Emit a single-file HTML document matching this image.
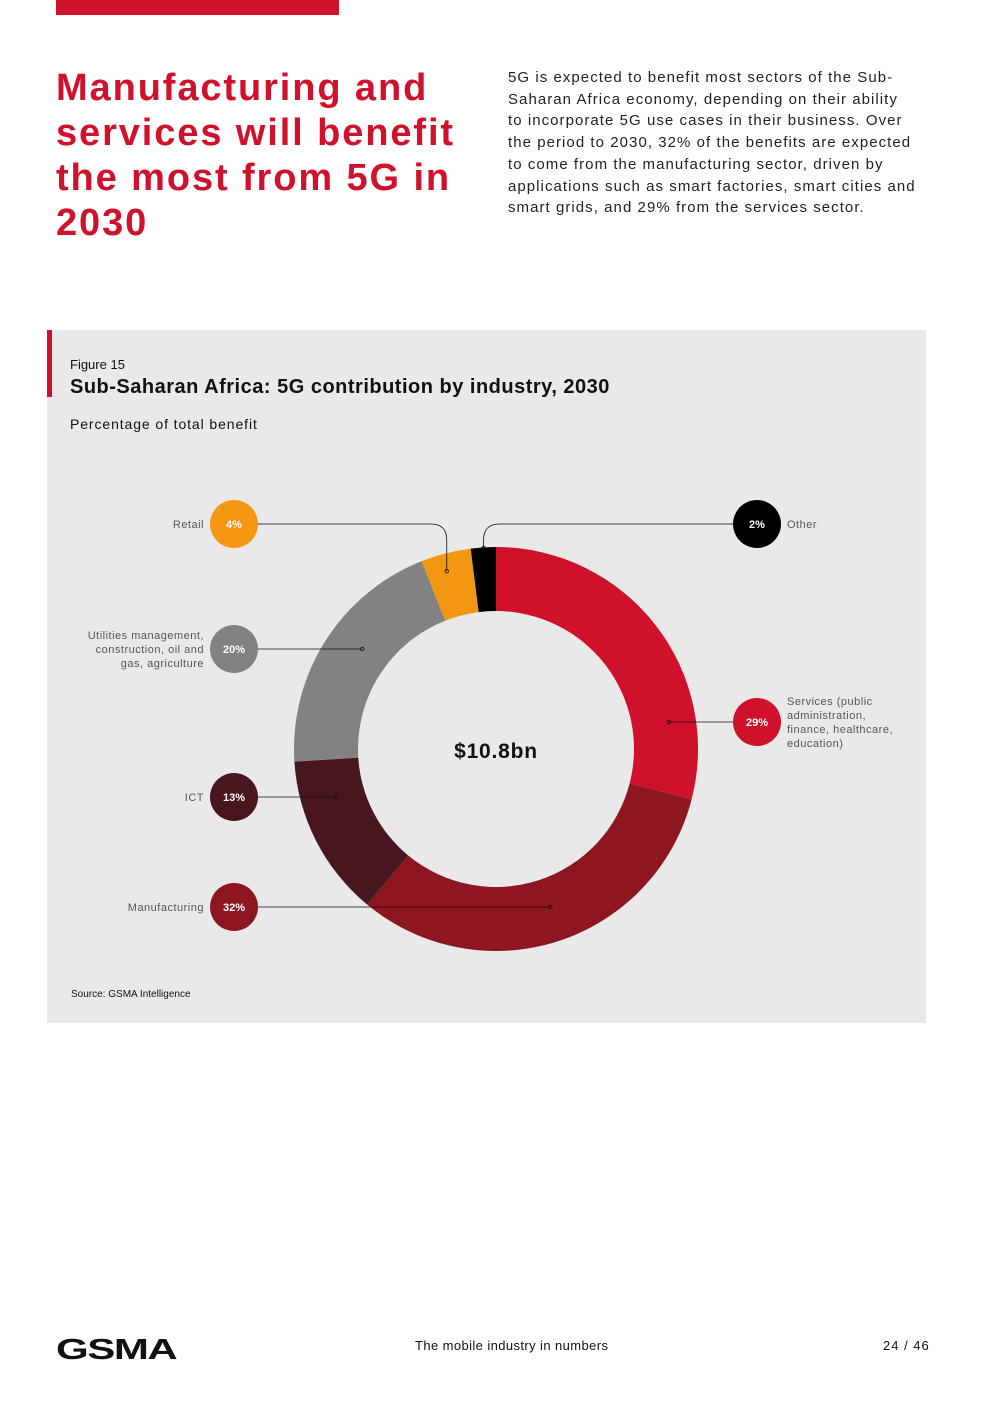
<!DOCTYPE html>
<html><head><meta charset="utf-8"><style>
body{margin:0;width:992px;height:1403px;background:#fff;font-family:"Liberation Sans",sans-serif;position:relative;overflow:hidden}
.a{position:absolute}
</style></head><body>
<div class="a" style="left:56px;top:0;width:283px;height:15px;background:#d0112b"></div>
<div class="a" style="left:56px;top:66px;width:460px;font-size:38px;line-height:45px;font-weight:bold;color:#d0112b;letter-spacing:1.9px;white-space:nowrap">Manufacturing and<br>services will benefit<br>the most from 5G in<br>2030</div>
<div class="a" style="left:508px;top:67px;width:440px;font-size:15px;line-height:21.7px;color:#222;letter-spacing:1.05px;white-space:nowrap">5G is expected to benefit most sectors of the Sub-<br>Saharan Africa economy, depending on their ability<br>to incorporate 5G use cases in their business. Over<br>the period to 2030, 32% of the benefits are expected<br>to come from the manufacturing sector, driven by<br>applications such as smart factories, smart cities and<br>smart grids, and 29% from the services sector.</div>

<div class="a" style="left:47px;top:330px;width:879px;height:693px;background:#e8e9e8"></div>
<div class="a" style="left:47px;top:330px;width:5px;height:67px;background:#d0112b"></div>
<div class="a" style="left:70px;top:357px;font-size:13px;color:#111">Figure 15</div>
<div class="a" style="left:70px;top:376px;font-size:20px;font-weight:bold;color:#111;letter-spacing:0.5px">Sub-Saharan Africa: 5G contribution by industry, 2030</div>
<div class="a" style="left:70px;top:416px;font-size:14px;color:#111;letter-spacing:0.9px">Percentage of total benefit</div>
<div class="a" style="left:71px;top:989px;font-size:10px;color:#111">Source: GSMA Intelligence</div>

<svg class="a" style="left:0;top:0" width="992" height="1403" id="chart"></svg>

<div class="a" style="left:56px;top:1334px;font-size:29px;font-weight:900;color:#111;letter-spacing:-1px;transform:scaleX(1.45);transform-origin:left">GSMA</div>
<div class="a" style="left:415px;top:1338px;font-size:13px;color:#111;letter-spacing:0.4px">The mobile industry in numbers</div>
<div class="a" style="left:883px;top:1338px;font-size:13px;color:#111;letter-spacing:1px">24 / 46</div>

<script>
const categories=["Services","Manufacturing","ICT","Utilities","Retail","Other"];
const values=[29,32,13,20,4,2];
const colors=["#d0112b","#8e1620","#47161f","#818281","#f39712","#000000"];
const labelTexts=[["Services (public","administration,","finance, healthcare,","education)"],["Manufacturing"],["ICT"],["Utilities management,","construction, oil and","gas, agriculture"],["Retail"],["Other"]];
const total="$10.8bn";
const svg=document.getElementById('chart');
const NS="http://www.w3.org/2000/svg";
const cx=496,cy=749,R=202,r=138;
function mk(t,a){const e=document.createElementNS(NS,t);for(const k in a)e.setAttribute(k,a[k]);svg.appendChild(e);return e;}
function pt(ang,rad){return [cx+rad*Math.sin(ang),cy-rad*Math.cos(ang)];}
const sum=values.reduce((a,b)=>a+b,0);
let acc=0;const mids=[];
values.forEach((v,i)=>{
 const a0=acc/sum*2*Math.PI,a1=(acc+v)/sum*2*Math.PI;acc+=v;mids.push((a0+a1)/2);
 const [x0,y0]=pt(a0,R),[x1,y1]=pt(a1,R),[x2,y2]=pt(a1,r),[x3,y3]=pt(a0,r);
 const lg=(a1-a0)>Math.PI?1:0;
 const p=mk('path',{d:`M${x0},${y0}A${R},${R} 0 ${lg} 1 ${x1},${y1}L${x2},${y2}A${r},${r} 0 ${lg} 0 ${x3},${y3}Z`,fill:colors[i]});
 
 
});
const c=mk('text',{x:cx,y:cy+9,'text-anchor':'middle','font-size':21,'font-weight':'bold',fill:'#111','letter-spacing':0.8});c.textContent=total;


const layout=[{side:'R',y:722},{side:'L',y:907},{side:'L',y:797},{side:'L',y:649},{side:'L',y:524,top:true},{side:'R',y:524,top:true}];
layout.forEach((L,i)=>{
 const ccx=L.side==='L'?234:757;
 const m=mids[i];
 const g=mk('g',{});
 
 
 let d;const ex=L.side==='L'?258:733;let tx,ty;
 if(L.top){tx=cx+(R-4)*Math.sin(m);ty=cy-(R-4)*Math.cos(m)+14;if(i===5)ty=cy-R+1;
  const dir=tx>ex?1:-1;
  d=`M${ex},${L.y}L${tx-dir*16},${L.y}Q${tx},${L.y} ${tx},${L.y+16}L${tx},${ty}`;}
 else{const rr=i===0?175:167;const dy=L.y-cy;const dx=Math.sqrt(rr*rr-dy*dy);
  tx=cx+(Math.sin(m)>=0?dx:-dx);ty=L.y;d=`M${ex},${L.y}L${tx},${L.y}`;}
 const ln=mk('path',{d:d,stroke:'#111','stroke-width':0.8,fill:'none'});g.appendChild(ln);
 g.appendChild(mk('circle',{cx:tx,cy:ty,r:1.8,fill:'none',stroke:'#111','stroke-width':0.8}));
 g.appendChild(mk('circle',{cx:ccx,cy:L.y,r:24,fill:colors[i]}));
 const t=mk('text',{x:ccx,y:L.y+4,'text-anchor':'middle','font-size':11,'font-weight':'bold',fill:'#fff'});t.textContent=values[i]+'%';g.appendChild(t);
 const lines=labelTexts[i];const y0=L.y+4-(lines.length-1)*7;
 lines.forEach((s,k)=>{const tt=mk('text',{x:L.side==='L'?204:787,y:y0+k*14,'text-anchor':L.side==='L'?'end':'start','font-size':11,fill:'#555','letter-spacing':0.5});tt.textContent=s;g.appendChild(tt);});
 svg.appendChild(g);
});
</script>
</body></html>
